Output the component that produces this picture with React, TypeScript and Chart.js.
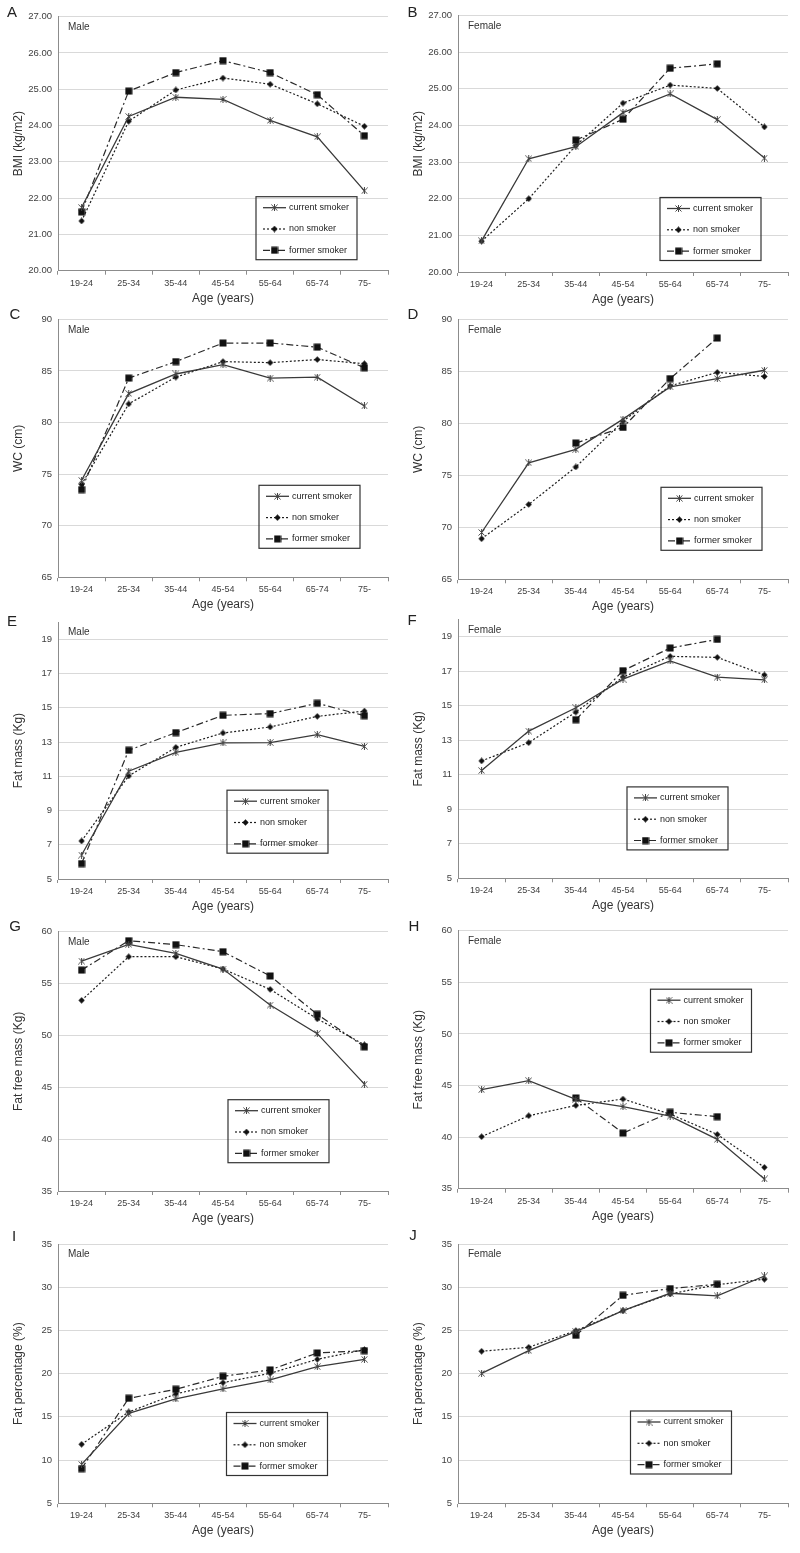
import React, { useEffect, useRef } from 'react';
import { Chart, registerables } from 'chart.js';

Chart.register(...registerables);

const FONT = '"Liberation Sans", Arial, Helvetica, sans-serif';
Chart.defaults.font.family = FONT;

// ---------------- data ----------------
const AGE_GROUPS = ['19-24', '25-34', '35-44', '45-54', '55-64', '65-74', '75-'];
const SERIES_NAMES = ['current smoker', 'non smoker', 'former smoker'];
const X_TITLE = 'Age (years)';

const BMI_MALE_CURRENT = [21.74, 24.25, 24.78, 24.72, 24.14, 23.69, 22.2];
const BMI_MALE_NON = [21.37, 24.12, 24.98, 25.31, 25.14, 24.6, 23.98];
const BMI_MALE_FORMER = [21.62, 24.95, 25.46, 25.79, 25.46, 24.85, 23.72];

const BMI_FEMALE_CURRENT = [20.85, 23.09, 23.42, 24.35, 24.86, 24.16, 23.11];
const BMI_FEMALE_NON = [20.84, 22.0, 23.45, 24.61, 25.1, 25.01, 23.96];
const BMI_FEMALE_FORMER = [null, null, 23.6, 24.17, 25.56, 25.68, null];

const WC_MALE_CURRENT = [74.4, 82.8, 84.7, 85.6, 84.3, 84.4, 81.6];
const WC_MALE_NON = [74.0, 81.8, 84.4, 85.9, 85.8, 86.1, 85.7];
const WC_MALE_FORMER = [73.5, 84.3, 85.9, 87.7, 87.7, 87.3, 85.3];

const WC_FEMALE_CURRENT = [69.5, 76.2, 77.5, 80.4, 83.5, 84.3, 85.1];
const WC_FEMALE_NON = [68.9, 72.2, 75.8, 80.2, 83.6, 84.9, 84.5];
const WC_FEMALE_FORMER = [null, null, 78.1, 79.6, 84.3, 88.2, null];

const FAT_MALE_CURRENT = [6.4, 11.3, 12.4, 12.95, 12.97, 13.43, 12.75];
const FAT_MALE_NON = [7.22, 11.02, 12.69, 13.53, 13.88, 14.5, 14.81];
const FAT_MALE_FORMER = [5.9, 12.52, 13.55, 14.56, 14.66, 15.26, 14.54];

const FAT_FEMALE_CURRENT = [11.24, 13.53, 14.88, 16.54, 17.6, 16.66, 16.5];
const FAT_FEMALE_NON = [11.8, 12.86, 14.63, 16.66, 17.86, 17.8, 16.78];
const FAT_FEMALE_FORMER = [null, null, 14.19, 17.03, 18.34, 18.84, null];

const FFM_MALE_CURRENT = [57.17, 58.78, 57.9, 56.4, 52.93, 50.17, 45.3];
const FFM_MALE_NON = [53.38, 57.59, 57.59, 56.4, 54.44, 51.6, 49.1];
const FFM_MALE_FORMER = [56.3, 59.13, 58.75, 58.07, 55.73, 52.03, 48.9];

const FFM_FEMALE_CURRENT = [44.59, 45.47, 43.66, 42.95, 42.04, 39.78, 35.94];
const FFM_FEMALE_NON = [40.04, 42.07, 43.07, 43.69, 42.23, 40.26, 37.07];
const FFM_FEMALE_FORMER = [null, null, 43.79, 40.39, 42.4, 41.98, null];

const FATPCT_MALE_CURRENT = [9.51, 15.41, 17.07, 18.23, 19.27, 20.81, 21.66];
const FATPCT_MALE_NON = [11.83, 15.57, 17.65, 18.96, 20.04, 21.66, 22.78];
const FATPCT_MALE_FORMER = [9.01, 17.15, 18.19, 19.69, 20.43, 22.39, 22.66];

const FATPCT_FEMALE_CURRENT = [20.04, 22.66, 24.86, 27.29, 29.3, 28.99, 31.3];
const FATPCT_FEMALE_NON = [22.59, 23.05, 24.98, 27.29, 29.22, 30.3, 30.92];
const FATPCT_FEMALE_FORMER = [null, null, 24.44, 29.06, 29.84, 30.34, null];

// y tick values per measure
const BMI_TICKS = [20, 21, 22, 23, 24, 25, 26, 27];
const WC_TICKS = [65, 70, 75, 80, 85, 90];
const FAT_TICKS = [5, 7, 9, 11, 13, 15, 17, 19];
const FFM_TICKS = [35, 40, 45, 50, 55, 60];
const FATPCT_TICKS = [5, 10, 15, 20, 25, 30, 35];

// ---------------- panel specs ----------------
type PanelSpec = {
  letter: string;
  sex: string;
  yTitle: string;
  yMin: number;
  yMax: number;
  yTicks: number[];
  decimals: number;
  series: (number | null)[][];
  left: number;
  plotTop: number;
  plotBottom: number;
  letterX: number;
  letterY: number;
  legendX: number;
  legendY: number;
};

const PANELS: PanelSpec[] = [
  { letter: 'A', sex: 'Male', yTitle: 'BMI (kg/m2)', yMin: 20, yMax: 27, yTicks: BMI_TICKS, decimals: 2,
    series: [BMI_MALE_CURRENT, BMI_MALE_NON, BMI_MALE_FORMER],
    left: 0, plotTop: 16.7, plotBottom: 270.7, letterX: 12, letterY: 13, legendX: 198, legendY: 180 },
  { letter: 'B', sex: 'Female', yTitle: 'BMI (kg/m2)', yMin: 20, yMax: 27, yTicks: BMI_TICKS, decimals: 2,
    series: [BMI_FEMALE_CURRENT, BMI_FEMALE_NON, BMI_FEMALE_FORMER],
    left: 400, plotTop: 15.5, plotBottom: 272, letterX: 12.5, letterY: 13, legendX: 202, legendY: 182 },
  { letter: 'C', sex: 'Male', yTitle: 'WC (cm)', yMin: 65, yMax: 90, yTicks: WC_TICKS, decimals: 0,
    series: [WC_MALE_CURRENT, WC_MALE_NON, WC_MALE_FORMER],
    left: 0, plotTop: 319.3, plotBottom: 577.3, letterX: 15, letterY: 315, legendX: 201, legendY: 166 },
  { letter: 'D', sex: 'Female', yTitle: 'WC (cm)', yMin: 65, yMax: 90, yTicks: WC_TICKS, decimals: 0,
    series: [WC_FEMALE_CURRENT, WC_FEMALE_NON, WC_FEMALE_FORMER],
    left: 400, plotTop: 319.3, plotBottom: 579.3, letterX: 13, letterY: 315, legendX: 203, legendY: 168 },
  { letter: 'E', sex: 'Male', yTitle: 'Fat mass (Kg)', yMin: 5, yMax: 20, yTicks: FAT_TICKS, decimals: 0,
    series: [FAT_MALE_CURRENT, FAT_MALE_NON, FAT_MALE_FORMER],
    left: 0, plotTop: 622.2, plotBottom: 879, letterX: 12, letterY: 622, legendX: 169, legendY: 168 },
  { letter: 'F', sex: 'Female', yTitle: 'Fat mass (Kg)', yMin: 5, yMax: 20, yTicks: FAT_TICKS, decimals: 0,
    series: [FAT_FEMALE_CURRENT, FAT_FEMALE_NON, FAT_FEMALE_FORMER],
    left: 400, plotTop: 619.4, plotBottom: 878.3, letterX: 12, letterY: 621, legendX: 169, legendY: 167.5 },
  { letter: 'G', sex: 'Male', yTitle: 'Fat free mass (Kg)', yMin: 35, yMax: 60, yTicks: FFM_TICKS, decimals: 0,
    series: [FFM_MALE_CURRENT, FFM_MALE_NON, FFM_MALE_FORMER],
    left: 0, plotTop: 931.7, plotBottom: 1191, letterX: 15, letterY: 927, legendX: 170, legendY: 168 },
  { letter: 'H', sex: 'Female', yTitle: 'Fat free mass (Kg)', yMin: 35, yMax: 60, yTicks: FFM_TICKS, decimals: 0,
    series: [FFM_FEMALE_CURRENT, FFM_FEMALE_NON, FFM_FEMALE_FORMER],
    left: 400, plotTop: 930.7, plotBottom: 1188.7, letterX: 14, letterY: 927, legendX: 192.5, legendY: 58.5 },
  { letter: 'I', sex: 'Male', yTitle: 'Fat percentage (%)', yMin: 5, yMax: 35, yTicks: FATPCT_TICKS, decimals: 0,
    series: [FATPCT_MALE_CURRENT, FATPCT_MALE_NON, FATPCT_MALE_FORMER],
    left: 0, plotTop: 1244, plotBottom: 1503.3, letterX: 14, letterY: 1237, legendX: 168.5, legendY: 168.5 },
  { letter: 'J', sex: 'Female', yTitle: 'Fat percentage (%)', yMin: 5, yMax: 35, yTicks: FATPCT_TICKS, decimals: 0,
    series: [FATPCT_FEMALE_CURRENT, FATPCT_FEMALE_NON, FATPCT_FEMALE_FORMER],
    left: 400, plotTop: 1244, plotBottom: 1503.3, letterX: 13, letterY: 1236, legendX: 172.5, legendY: 167 },
];

// ---------------- styles ----------------
const PANEL_W = 400;
const PLOT_LEFT = 58;
const PLOT_RIGHT = 388;
const X_AXIS_H = 40;
const PAD_TOP = 17;
const GRID_COLOR = '#d9d9d9';
const AXIS_COLOR = '#8c8c8c';
const TICK_COLOR = '#404040';
const TITLE_COLOR = '#333333';

let markerCache: HTMLCanvasElement[] | null = null;
function getMarkers(): HTMLCanvasElement[] {
  if (markerCache) return markerCache;
  const mk = (size: number, draw: (c: CanvasRenderingContext2D) => void) => {
    const cv = document.createElement('canvas');
    cv.width = size;
    cv.height = size;
    const c = cv.getContext('2d')!;
    draw(c);
    return cv;
  };
  const star = mk(7, (c) => {
    c.strokeStyle = '#444';
    c.lineWidth = 1;
    c.beginPath();
    c.moveTo(0.5, 0.5); c.lineTo(6.5, 6.5);
    c.moveTo(6.5, 0.5); c.lineTo(0.5, 6.5);
    c.moveTo(3.5, 0); c.lineTo(3.5, 7);
    c.stroke();
  });
  const diamond = mk(7, (c) => {
    c.fillStyle = '#111';
    c.beginPath();
    c.moveTo(3.5, 0.3); c.lineTo(6.6, 3.5); c.lineTo(3.5, 6.7); c.lineTo(0.4, 3.5);
    c.closePath();
    c.fill();
  });
  const square = mk(8, (c) => {
    c.fillStyle = '#111';
    c.fillRect(0.5, 0.5, 7, 7);
  });
  markerCache = [star, diamond, square];
  return markerCache;
}

const LINE_COLORS = ['#3a3a3a', '#1e1e1e', '#2a2a2a'];
const LINE_DASHES: number[][] = [[], [2, 2], [7, 3, 2, 3]];
const LINE_WIDTHS = [1.3, 1.2, 1.2];

function makeDecor(p: PanelSpec, canvasTop: number) {
  return {
    id: 'decor' + p.letter,
    afterDraw(chart: any) {
      const ctx: CanvasRenderingContext2D = chart.ctx;
      const a = chart.chartArea;
      ctx.save();
      ctx.fillStyle = '#222';
      ctx.font = `15px ${FONT}`;
      ctx.textAlign = 'center';
      ctx.textBaseline = 'middle';
      ctx.fillText(p.letter, p.letterX, p.letterY - canvasTop);

      ctx.fillStyle = TITLE_COLOR;
      ctx.font = `10px ${FONT}`;
      ctx.textAlign = 'left';
      ctx.fillText(p.sex, a.left + 10, a.top + 10.5);

      const bx = a.left + p.legendX;
      const by = a.top + p.legendY;
      ctx.strokeStyle = '#333';
      ctx.lineWidth = 1.2;
      ctx.strokeRect(bx, by, 101, 63);
      chart.data.datasets.forEach((ds: any, i: number) => {
        const y = by + 11 + i * 21.3;
        ctx.setLineDash(ds.borderDash || []);
        ctx.strokeStyle = ds.borderColor;
        ctx.lineWidth = ds.borderWidth;
        ctx.beginPath();
        ctx.moveTo(bx + 7, y);
        ctx.lineTo(bx + 30, y);
        ctx.stroke();
        ctx.setLineDash([]);
        const img = ds.pointStyle as HTMLCanvasElement;
        ctx.drawImage(img, bx + 18.5 - img.width / 2, y - img.height / 2);
        ctx.fillStyle = '#222';
        ctx.font = `9px ${FONT}`;
        ctx.textAlign = 'left';
        ctx.textBaseline = 'middle';
        ctx.fillText(ds.label, bx + 33, y);
      });
      ctx.restore();
    },
  };
}

function Panel({ spec }: { spec: PanelSpec }) {
  const ref = useRef<HTMLCanvasElement>(null);
  const top = Math.floor(spec.plotTop - PAD_TOP);
  const padTop = spec.plotTop - top;
  const plotH = spec.plotBottom - spec.plotTop;
  const h = Math.ceil(padTop + plotH + X_AXIS_H + 1);
  const padBottom = h - padTop - plotH - X_AXIS_H;

  useEffect(() => {
    const markers = getMarkers();
    const datasets = SERIES_NAMES.map((name, i) => ({
      label: name,
      data: spec.series[i],
      borderColor: LINE_COLORS[i],
      borderWidth: LINE_WIDTHS[i],
      borderDash: LINE_DASHES[i],
      pointStyle: markers[i],
      pointRadius: 4,
      pointHoverRadius: 4,
      fill: false,
      tension: 0,
      spanGaps: false,
    }));
    const chart = new Chart(ref.current as HTMLCanvasElement, {
      type: 'line',
      data: { labels: AGE_GROUPS, datasets },
      options: {
        animation: false,
        responsive: false,
        maintainAspectRatio: false,
        events: [],
        layout: { padding: { top: padTop, bottom: padBottom, left: 0, right: PANEL_W - PLOT_RIGHT } },
        plugins: { legend: { display: false }, tooltip: { enabled: false } },
        scales: {
          x: {
            offset: true,
            grid: { offset: true, drawOnChartArea: false, drawTicks: true, tickLength: 4, color: AXIS_COLOR },
            border: { display: true, color: AXIS_COLOR, width: 1 },
            ticks: { font: { size: 9, family: FONT }, color: TICK_COLOR, padding: 3, maxRotation: 0, autoSkip: false },
            title: { display: true, text: X_TITLE, font: { size: 12, family: FONT }, color: TITLE_COLOR, padding: { top: 0, bottom: 5 } },
            afterFit: (s: any) => { s.height = X_AXIS_H; },
          },
          y: {
            min: spec.yMin,
            max: spec.yMax,
            grid: { color: GRID_COLOR, drawTicks: false, lineWidth: 1 },
            border: { display: true, color: AXIS_COLOR, width: 1 },
            ticks: {
              font: { size: 9.5, family: FONT },
              color: TICK_COLOR,
              padding: 6,
              callback: (v: any) => Number(v).toFixed(spec.decimals),
            },
            afterBuildTicks: (s: any) => {
              s.ticks = spec.yTicks.map((v) => ({ value: v }));
            },
            title: { display: true, text: spec.yTitle, font: { size: 12, family: FONT }, color: TITLE_COLOR, padding: { top: 11, bottom: 0 } },
            afterFit: (s: any) => { s.width = PLOT_LEFT; },
          },
        },
      } as any,
      plugins: [makeDecor(spec, top) as any],
    });
    return () => chart.destroy();
  }, [spec]);

  return (
    <canvas
      ref={ref}
      width={PANEL_W}
      height={h}
      style={{ position: 'absolute', left: spec.left, top, width: PANEL_W, height: h }}
    />
  );
}

export default function App() {
  return (
    <div style={{ position: 'absolute', left: 0, top: 0, width: 800, height: 1553, background: '#ffffff', overflow: 'hidden' }}>
      {PANELS.map((p) => (
        <Panel key={p.letter} spec={p} />
      ))}
    </div>
  );
}
